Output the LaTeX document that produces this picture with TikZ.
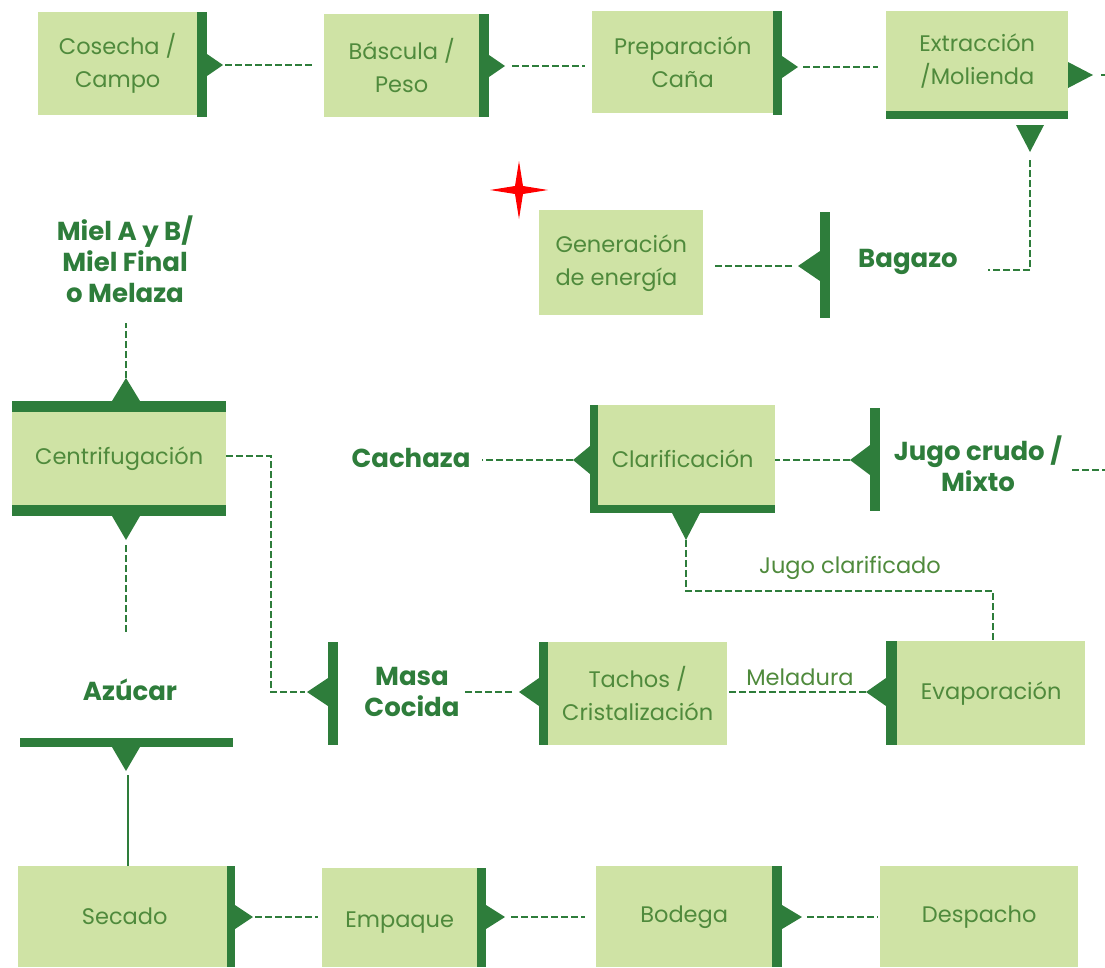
\documentclass[tikz,border=0pt]{standalone}
\usepackage{fontspec}
\setmainfont{Poppins}
\definecolor{boxc}{HTML}{CFE3A5}
\definecolor{dkc}{HTML}{2E7D3B}
\definecolor{txtc}{HTML}{4F8A3C}
\newcommand\bxfont{\fontsize{22.5}{33}\selectfont}
\newcommand\lbfont{\fontsize{26}{31}\selectfont\bfseries}
\newcommand\triR[4]{\fill[dkc] (#1,{#2-#4}) -- ({#1+#3},#2) -- (#1,{#2+#4}) -- cycle;}
\newcommand\triL[4]{\fill[dkc] (#1,{#2-#4}) -- ({#1-#3},#2) -- (#1,{#2+#4}) -- cycle;}
\newcommand\triD[4]{\fill[dkc] ({#1-#4},#2) -- (#1,{#2+#3}) -- ({#1+#4},#2) -- cycle;}
\newcommand\triU[4]{\fill[dkc] ({#1-#4},#2) -- (#1,{#2-#3}) -- ({#1+#4},#2) -- cycle;}
\tikzset{
  box/.style={fill=boxc, inner sep=0, anchor=north west, text=txtc, font=\bxfont, align=center},
  dl/.style={draw=dkc, line width=1.1pt, dash pattern=on 7pt off 3pt},
  lbl/.style={text=dkc, font=\lbfont, align=center, inner sep=0},
  sl/.style={text=txtc, font=\bxfont, inner sep=0}
}
\begin{document}
\begin{tikzpicture}[x=1pt,y=-1pt]
\useasboundingbox (0,0) rectangle (1105,967);
% ---------- top row ----------
\node[box, minimum width=159, minimum height=103] (cos) at (38,12) {Cosecha /\\Campo};
\fill[dkc] (197,12) rectangle (207,117);
\triR{207}{65}{16}{11}
\coordinate (tcos) at (223,65);
\node[box, minimum width=155, minimum height=103] (bas) at (324,14) {Báscula /\\Peso};
\fill[dkc] (479,14) rectangle (489,117);
\triR{489}{66}{16}{11}
\coordinate (tbas) at (505,66);
\node[box, minimum width=181, minimum height=102] (pre) at (592,11) {Preparación\\Caña};
\fill[dkc] (773,11) rectangle (782,115);
\triR{782}{67}{16}{11}
\coordinate (tpre) at (798,67);
\node[box, minimum width=182, minimum height=100] (ext) at (886,11) {Extracción\\/Molienda};
\fill[dkc] (886,111) rectangle (1068,119);
\triR{1068}{75}{25}{13}
\coordinate (text) at (1093,75);
\coordinate (edge) at (1105,75);
\triD{1030}{125}{27}{14}
\coordinate (dext) at (1030,152);
\draw[dl, shorten <=2pt, shorten >=9pt] (tcos) -- (bas.west |- tcos);
\draw[dl, shorten <=7pt, shorten >=7pt] (tbas) -- (pre.west |- tbas);
\draw[dl, shorten <=5pt, shorten >=8pt] (tpre) -- (ext.west |- tpre);
\draw[dl, shorten <=8pt] (text) -- (edge);
% bagazo
\node[lbl] (bag) at (908,262) {Bagazo};
\fill[dkc] (820,212) rectangle (830,318);
\triL{820}{266}{22}{15}
\coordinate (tbag) at (798,266);
\coordinate (bagc) at (1030,270);
\draw[dl, shorten <=8pt] (dext) -- (bagc) -- ([xshift=30pt]bag.east |- bagc);
\node[box, minimum width=164, minimum height=105, align=left] (gen) at (539,210) {Generación\\de energía};
\draw[dl, shorten <=6pt, shorten >=12pt] (tbag) -- (gen.east |- tbag);
% star
\fill[red] (490,190) -- (515,186) -- (519,161) -- (523,186) -- (548,190) -- (523,194) -- (519,219) -- (515,194) -- cycle;
% ---------- left column ----------
\node[lbl] (miel) at (125,259) {Miel A y B/\\Miel Final\\o Melaza};
\triU{126}{401}{23}{14}
\coordinate (ucen) at (126,378);
\draw[dl] (ucen) -- (126,323);
\fill[dkc] (12,401) rectangle (226,412);
\node[box, minimum width=214, minimum height=93] (cen) at (12,412) {Centrifugación};
\fill[dkc] (12,505) rectangle (226,516);
\triD{126}{516}{24}{14}
\coordinate (dcen) at (126,540);
\node[lbl] (azu) at (130,690) {Azúcar};
\draw[dl, shorten <=5pt] (dcen) -- (126,633);
\fill[dkc] (20,738) rectangle (233,747);
\triD{126}{747}{24}{14}
\coordinate (dazu) at (128,771);
% masa cocida
\coordinate (c1) at (271,456);
\coordinate (c2) at (271,692);
\fill[dkc] (328,642) rectangle (338,745);
\triL{328}{692}{21}{14}
\coordinate (tmas) at (307,692);
\draw[dl, shorten >=2pt] (cen.east |- c1) -- (c1) -- (c2) -- (tmas);
\node[lbl] (mas) at (412,692) {Masa\\Cocida};
\fill[dkc] (539,642) rectangle (548,745);
\triL{539}{692}{20}{14}
\coordinate (ttac) at (519,692);
\draw[dl, shorten <=7pt] (ttac) -- (465,692);
\node[box, minimum width=179, minimum height=103] (tac) at (548,642) {Tachos /\\Cristalización};
\node[sl] (mel) at (800,677) {Meladura};
\fill[dkc] (886,641) rectangle (897,745);
\triL{886}{692}{20}{14}
\coordinate (tevp) at (866,692);
\draw[dl] (tevp) -- (tac.east |- tevp);
\node[box, minimum width=188, minimum height=104] (evp) at (897,641) {Evaporación};
% clarificacion
\node[box, minimum width=185, minimum height=108] (cla) at (590,405) {Clarificación};
\fill[dkc] (590,405) rectangle (598,513);
\fill[dkc] (590,505) rectangle (775,513);
\triL{590}{460}{17}{14}
\coordinate (tcla) at (573,460);
\triD{686}{513}{27}{14}
\coordinate (dcla) at (686,540);
\node[lbl] (cac) at (411,458) {Cachaza};
\draw[dl] (tcla) -- (482,460);
\node[sl] (jcl) at (850,568) {Jugo clarificado};
\coordinate (e1) at (686,591);
\coordinate (e2) at (993,591);
\draw[dl] (dcla) -- (e1) -- (e2) -- (evp.north -| e2);
\fill[dkc] (870,408) rectangle (880,511);
\triL{870}{460}{20}{15}
\coordinate (tjug) at (850,460);
\draw[dl] (tjug) -- (cla.east |- tjug);
\node[lbl] (jug) at (978,464) {Jugo crudo /\\Mixto};
\coordinate (edge2) at (1105,470);
\draw[dl] (1072,470) -- (edge2);
% ---------- bottom row ----------
\node[box, minimum width=209, minimum height=101] (sec) at (18,866) {};
\node[sl] at ([xshift=2pt]sec.center) {Secado};
\draw[draw=dkc, line width=1.1pt, shorten <=4pt] (dazu) -- (dazu |- sec.north);
\fill[dkc] (227,866) rectangle (235,967);
\triR{235}{917}{18}{12}
\coordinate (tsec) at (253,917);
\node[box, minimum width=155, minimum height=99] (emp) at (322,868) {};
\node[sl] at ([yshift=-5pt]emp.center) {Empaque};
\draw[dl, shorten <=2pt, shorten >=4pt] (tsec) -- (emp.west |- tsec);
\fill[dkc] (477,868) rectangle (486,967);
\triR{486}{917}{19}{12}
\coordinate (temp) at (505,917);
\node[box, minimum width=176, minimum height=101] (bod) at (596,866) {Bodega};
\draw[dl, shorten <=6pt, shorten >=11pt] (temp) -- (bod.west |- temp);
\fill[dkc] (772,866) rectangle (782,967);
\triR{782}{917}{20}{12}
\coordinate (tbod) at (802,917);
\node[box, minimum width=198, minimum height=101] (des) at (880,866) {Despacho};
\draw[dl, shorten <=5pt, shorten >=2pt] (tbod) -- (des.west |- tbod);
\end{tikzpicture}
\end{document}
